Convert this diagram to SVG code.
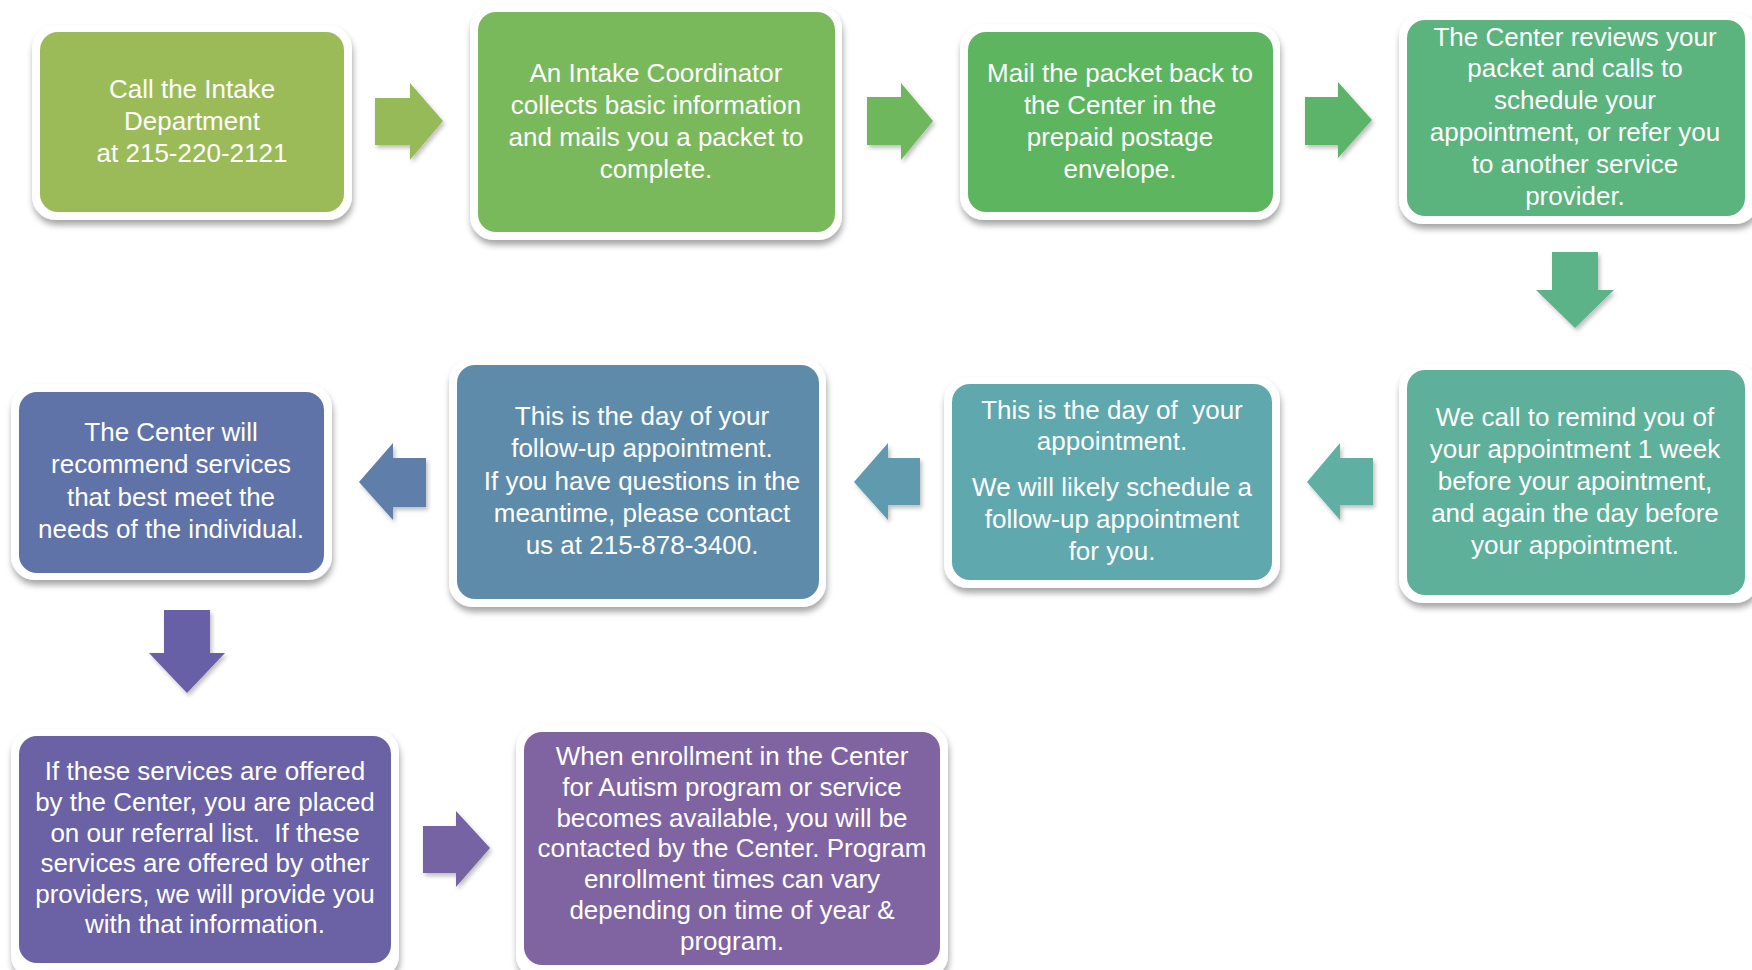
<svg xmlns="http://www.w3.org/2000/svg" width="1752" height="970" viewBox="0 0 1752 970">
<defs>
<filter id="sh" x="-10%" y="-10%" width="120%" height="130%">
<feDropShadow dx="1" dy="5" stdDeviation="3" flood-color="#000" flood-opacity="0.35"/>
</filter>
<filter id="ash" x="-20%" y="-20%" width="150%" height="150%">
<feDropShadow dx="2" dy="3" stdDeviation="2" flood-color="#000" flood-opacity="0.25"/>
</filter>
</defs>
<style>
.frame{fill:#ffffff;filter:url(#sh)}
.t{font-family:"Liberation Sans",Arial,sans-serif;font-size:26px;fill:#ffffff;text-anchor:middle}
.arr{filter:url(#ash)}
</style>
<rect width="1752" height="970" fill="#ffffff"/>

<g id="connectors">
<polygon class="arr" fill="#97BA59" points="375,98 410,98 410,83 443,121 410,160 410,145 375,145"/>
<polygon class="arr" fill="#6EB75D" points="867,97 901,97 901,83 933,121 901,160 901,145 867,145"/>
<polygon class="arr" fill="#5CB46A" points="1305,97 1338,97 1338,82 1372,120 1338,158 1338,145 1305,145"/>
<polygon class="arr" fill="#5CB388" points="1552,252 1598,252 1598,290 1614,290 1575,328 1536,290 1552,290"/>
<polygon class="arr" fill="#5EB0A3" points="1373,458 1340,458 1340,443 1307,482 1340,520 1340,505 1373,505"/>
<polygon class="arr" fill="#5F9AAE" points="920,458 888,458 888,443 854,482 888,520 888,505 920,505"/>
<polygon class="arr" fill="#5F7EA9" points="426,458 393,458 393,443 359,482 393,520 393,507 426,507"/>
<polygon class="arr" fill="#6861A6" points="164,610 210,610 210,653 225,653 187,693 149,653 164,653"/>
<polygon class="arr" fill="#7663A4" points="423,826 456,826 456,811 490,848 456,887 456,873 423,873"/>
</g>

<g id="n1">
<rect class="frame" x="32" y="25" width="320" height="195" rx="24"/>
<rect x="40" y="32" width="304" height="180" rx="18" fill="#9BBB59"/>
<text class="t" x="192" y="98">Call the Intake</text>
<text class="t" x="192" y="130">Department</text>
<text class="t" x="192" y="162">at 215-220-2121</text>
</g>

<g id="n2">
<rect class="frame" x="470" y="5" width="372" height="235" rx="24"/>
<rect x="478" y="12" width="357" height="220" rx="18" fill="#7AB85C"/>
<text class="t" x="656" y="82">An Intake Coordinator</text>
<text class="t" x="656" y="114">collects basic information</text>
<text class="t" x="656" y="146">and mails you a packet to</text>
<text class="t" x="656" y="178">complete.</text>
</g>

<g id="n3">
<rect class="frame" x="960" y="24" width="320" height="196" rx="24"/>
<rect x="968" y="32" width="305" height="180" rx="18" fill="#5DB55F"/>
<text class="t" x="1120" y="82">Mail the packet back to</text>
<text class="t" x="1120" y="114">the Center in the</text>
<text class="t" x="1120" y="146">prepaid postage</text>
<text class="t" x="1120" y="178">envelope.</text>
</g>

<g id="n4">
<rect class="frame" x="1399" y="13" width="360" height="211" rx="24"/>
<rect x="1407" y="20" width="338" height="196" rx="18" fill="#5BB37D"/>
<text class="t" x="1575" y="46">The Center reviews your</text>
<text class="t" x="1575" y="77">packet and calls to</text>
<text class="t" x="1575" y="109">schedule your</text>
<text class="t" x="1575" y="141">appointment, or refer you</text>
<text class="t" x="1575" y="173">to another service</text>
<text class="t" x="1575" y="205">provider.</text>
</g>

<g id="n5">
<rect class="frame" x="1399" y="364" width="360" height="239" rx="24"/>
<rect x="1407" y="370" width="338" height="225" rx="18" fill="#5EB09A"/>
<text class="t" x="1575" y="426">We call to remind you of</text>
<text class="t" x="1575" y="458">your appointment 1 week</text>
<text class="t" x="1575" y="490">before your apointment,</text>
<text class="t" x="1575" y="522">and again the day before</text>
<text class="t" x="1575" y="554">your appointment.</text>
</g>

<g id="n6">
<rect class="frame" x="944" y="377" width="336" height="211" rx="24"/>
<rect x="952" y="384" width="320" height="196" rx="18" fill="#5FA8AE"/>
<text class="t" x="1112" y="419" xml:space="preserve">This is the day of  your</text>
<text class="t" x="1112" y="450">appointment.</text>
<text class="t" x="1112" y="496">We will likely schedule a</text>
<text class="t" x="1112" y="528">follow-up appointment</text>
<text class="t" x="1112" y="560">for you.</text>
</g>

<g id="n7">
<rect class="frame" x="449" y="358" width="377" height="249" rx="24"/>
<rect x="457" y="365" width="362" height="234" rx="18" fill="#5E8BAA"/>
<text class="t" x="642" y="425">This is the day of your</text>
<text class="t" x="642" y="457">follow-up appointment.</text>
<text class="t" x="642" y="490">If you have questions in the</text>
<text class="t" x="642" y="522">meantime, please contact</text>
<text class="t" x="642" y="554">us at 215-878-3400.</text>
</g>

<g id="n8">
<rect class="frame" x="11" y="384" width="321" height="196" rx="24"/>
<rect x="19" y="392" width="305" height="181" rx="18" fill="#6073A8"/>
<text class="t" x="171" y="441">The Center will</text>
<text class="t" x="171" y="473">recommend services</text>
<text class="t" x="171" y="506">that best meet the</text>
<text class="t" x="171" y="538">needs of the individual.</text>
</g>

<g id="n9">
<rect class="frame" x="11" y="729" width="388" height="250" rx="24"/>
<rect x="19" y="736" width="372" height="227" rx="18" fill="#6A62A5"/>
<text class="t" x="205" y="780">If these services are offered</text>
<text class="t" x="205" y="811">by the Center, you are placed</text>
<text class="t" x="205" y="842" xml:space="preserve">on our referral list.  If these</text>
<text class="t" x="205" y="872">services are offered by other</text>
<text class="t" x="205" y="903">providers, we will provide you</text>
<text class="t" x="205" y="933">with that information.</text>
</g>

<g id="n10">
<rect class="frame" x="516" y="724" width="432" height="255" rx="24"/>
<rect x="524" y="732" width="416" height="233" rx="18" fill="#8064A2"/>
<text class="t" x="732" y="765">When enrollment in the Center</text>
<text class="t" x="732" y="796">for Autism program or service</text>
<text class="t" x="732" y="827">becomes available, you will be</text>
<text class="t" x="732" y="857">contacted by the Center. Program</text>
<text class="t" x="732" y="888">enrollment times can vary</text>
<text class="t" x="732" y="919">depending on time of year &amp;</text>
<text class="t" x="732" y="950">program.</text>
</g>
</svg>
